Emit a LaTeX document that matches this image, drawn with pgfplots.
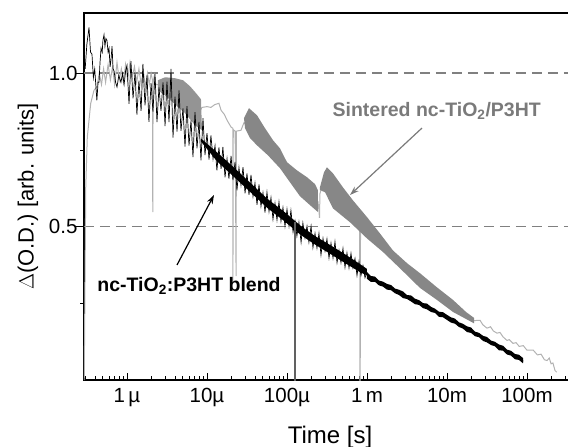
\documentclass[border=0pt]{standalone}
\usepackage{fontspec}
\setmainfont{Liberation Sans}
\usepackage{pgfplots}
\pgfplotsset{compat=1.18}
\usetikzlibrary{arrows.meta}
\definecolor{bandgray}{gray}{0.53}
\definecolor{bandlight}{gray}{0.58}
\definecolor{lightgr}{gray}{0.70}
\definecolor{dashgr}{gray}{0.50}
\definecolor{textgr}{gray}{0.48}
\definecolor{spikegr}{gray}{0.38}
\begin{document}
\begin{tikzpicture}
\path[use as bounding box] (0,0) rectangle (568pt,447pt);
\begin{axis}[
  at={(84pt,67pt)}, anchor=south west,
  scale only axis, width=490pt, height=367pt,
  xmode=log, ymode=log,
  xmin=2.9e-7, xmax=0.387, ymin=0.25, ymax=1.313,
  xtick={1e-6,1e-5,1e-4,1e-3,1e-2,1e-1},
  xticklabels={1\,µ,10µ,100µ,1\,m,10m,100m},
  minor xtick={3e-7,4e-7,5e-7,6e-7,7e-7,8e-7,9e-7,
    2e-6,3e-6,4e-6,5e-6,6e-6,7e-6,8e-6,9e-6,
    2e-5,3e-5,4e-5,5e-5,6e-5,7e-5,8e-5,9e-5,
    2e-4,3e-4,4e-4,5e-4,6e-4,7e-4,8e-4,9e-4,
    2e-3,3e-3,4e-3,5e-3,6e-3,7e-3,8e-3,9e-3,
    2e-2,3e-2,4e-2,5e-2,6e-2,7e-2,8e-2,9e-2,
    2e-1,3e-1},
  ytick={0.5,1}, yticklabels={0.5,1.0},
  minor ytick={0.35355,0.70711},
  xtick pos=left, ytick pos=left,
  tick align=inside,
  major tick length=7pt, minor tick length=4pt,
  major y tick style={xshift=-8pt},
  minor y tick style={xshift=-3.5pt},
  tick style={black, line width=0.9pt},
  axis line style={black, line width=1.2pt},
  tick label style={font=\fontsize{20.5}{22}\selectfont},
  xticklabel style={yshift=-5pt},
  yticklabel style={xshift=-3pt},
  xlabel={Time [s]},
  xlabel style={font=\fontsize{24}{26}\selectfont, at={(rel axis cs:0.502,0)}, anchor=center, yshift=-57pt},
  clip mode=individual,
]
% reference lines
\addplot[dashgr, line width=1.6pt, dash pattern=on 10pt off 6pt] coordinates {(2.9e-7,1) (0.387,1)};
\addplot[dashgr, line width=1.6pt, dash pattern=on 10pt off 6pt] coordinates {(2.9e-7,0.5) (0.387,0.5)};

% sintered: thin light grey trace
\addplot[lightgr, line width=1pt] coordinates {
(2.92e-7,0.25) (3.05e-7,0.597) (3.19e-7,0.749) (3.52e-7,0.873) (3.87e-7,0.926) (4.2e-7,0.94)
(4.5e-7,1.00) (4.8e-7,0.95) (5.1e-7,1.02) (5.4e-7,0.96) (5.8e-7,1.04) (6.2e-7,0.97)
(6.6e-7,1.03) (7.0e-7,0.95) (7.5e-7,1.05) (8.0e-7,0.97) (8.5e-7,1.02) (9.0e-7,0.96)
(9.6e-7,1.04) (1.02e-6,0.97) (1.09e-6,1.05) (1.16e-6,0.98) (1.24e-6,1.03) (1.32e-6,0.96)
(1.41e-6,1.02) (1.5e-6,0.95) (1.6e-6,1.01) (1.7e-6,0.94) (1.8e-6,1.00) (1.9e-6,0.95)
(2.0e-6,1.00) (2.08e-6,0.97) (2.1e-6,0.534) (2.12e-6,0.96) (2.2e-6,0.99) (2.3e-6,0.95)
(2.44e-6,0.95) (3e-6,0.93) (4e-6,0.90) (5e-6,0.88) (6e-6,0.87) (7e-6,0.86) (8.4e-6,0.85)
(8.66e-6,0.857) (1.0e-5,0.86) (1.12e-5,0.857) (1.25e-5,0.868) (1.41e-5,0.873) (1.5e-5,0.846)
(1.65e-5,0.83) (1.78e-5,0.809) (2.0e-5,0.784) (2.1e-5,0.78) (2.11e-5,0.387) (2.13e-5,0.775)
(2.25e-5,0.77) (2.31e-5,0.40) (2.33e-5,0.77) (2.66e-5,0.773) (2.9e-5,0.80) (4e-5,0.76)
(6e-5,0.70) (1e-4,0.64) (1.5e-4,0.60) (2.2e-4,0.57) (2.44e-4,0.56) (2.5e-4,0.54) (2.55e-4,0.52)
(2.58e-4,0.58) (2.9e-4,0.62) (3.16e-4,0.64) (5e-4,0.56) (8.1e-4,0.50) (8.2e-4,0.2) (8.3e-4,0.49)
(1e-3,0.49) (2e-3,0.44) (5e-3,0.39) (1e-2,0.35) (2.18e-2,0.327) (2.59e-2,0.3275) (2.8e-2,0.321)
(3.16e-2,0.316) (3.5e-2,0.318) (3.8e-2,0.312) (4.22e-2,0.309) (4.6e-2,0.310) (5.0e-2,0.304)
(5.62e-2,0.299) (6.0e-2,0.300) (6.68e-2,0.295) (7.3e-2,0.296) (8.0e-2,0.291) (9.0e-2,0.292)
(1.0e-1,0.286) (1.09e-1,0.286) (1.2e-1,0.286) (1.35e-1,0.280) (1.5e-1,0.281) (1.65e-1,0.274)
(1.78e-1,0.273) (1.9e-1,0.276) (2.0e-1,0.269) (2.11e-1,0.270) (2.24e-1,0.261) (2.35e-1,0.259)
};

% sintered: dense (dark grey) segments
\addplot[bandlight, fill=bandlight, draw=none] coordinates {
(2.44e-6,0.969) (2.99e-6,0.982) (3.98e-6,0.978) (5.01e-6,0.969) (6.13e-6,0.943) (7.29e-6,0.914)
(8.41e-6,0.889) (8.66e-6,0.773) (7.08e-6,0.791) (5.31e-6,0.835) (3.98e-6,0.869) (2.99e-6,0.905)
(2.44e-6,0.926)
};
\addplot[bandgray, fill=bandgray, draw=none] coordinates {
(2.90e-5,0.816) (3.35e-5,0.854) (4.22e-5,0.827) (5.31e-5,0.780) (6.68e-5,0.739) (8.18e-5,0.712)
(1.0e-4,0.669) (1.33e-4,0.645) (1.78e-4,0.625) (2.24e-4,0.606) (2.44e-4,0.589)
(2.44e-4,0.534) (1.94e-4,0.551) (1.45e-4,0.574) (1.09e-4,0.611) (8.18e-5,0.651) (5.79e-5,0.690)
(4.22e-5,0.722) (3.45e-5,0.746) (2.99e-5,0.780)
};
\addplot[bandgray, fill=bandgray, draw=none] coordinates {
(2.58e-4,0.597) (2.90e-4,0.639) (3.16e-4,0.654) (3.76e-4,0.636) (5.01e-4,0.597) (6.68e-4,0.563)
(1e-3,0.522) (1.45e-3,0.485) (2.11e-3,0.449) (3.16e-3,0.424) (4.60e-3,0.405) (7.50e-3,0.380)
(1.19e-2,0.359) (1.73e-2,0.340) (2.18e-2,0.331)
(2.18e-2,0.323) (1.19e-2,0.340) (7.50e-3,0.359) (4.60e-3,0.379) (2.59e-3,0.414) (1.58e-3,0.446)
(1e-3,0.474) (6.13e-4,0.510) (3.76e-4,0.543) (2.99e-4,0.584) (2.58e-4,0.590)
};

% blend: dense core of the noisy trace
\addplot[black, fill=black, draw=none] coordinates {
(8.4e-6,0.745) (1.33e-5,0.700) (2.2e-5,0.652) (3.5e-5,0.609) (5.6e-5,0.568)
(9.2e-5,0.535) (1.5e-4,0.501) (2.2e-4,0.480) (3.4e-4,0.461) (5.6e-4,0.439) (8.2e-4,0.422) (1e-3,0.413)
(1e-3,0.401) (8.2e-4,0.407) (5.6e-4,0.422) (3.4e-4,0.443) (2.2e-4,0.462) (1.5e-4,0.481)
(9.2e-5,0.513) (5.6e-5,0.545) (3.5e-5,0.584) (2.2e-5,0.625) (1.33e-5,0.672) (8.4e-6,0.735)
};
% blend: noisy trace
\addplot[black, line width=0.7pt] coordinates {
(3.0e-7,1.02) (3.15e-7,1.14) (3.35e-7,1.23) (3.5e-7,1.10) (3.65e-7,1.09) (3.8e-7,0.98) (3.95e-7,1.02)
(4.2e-7,0.885) (4.35e-7,0.96) (4.47e-7,0.96) (4.6e-7,1.05) (4.74e-7,1.12) (4.9e-7,1.10) (5.0e-7,1.16)
(5.16e-7,1.19) (5.3e-7,1.13) (5.45e-7,1.17) (5.62e-7,1.16) (5.8e-7,1.10) (5.96e-7,1.12) (6.15e-7,1.03)
(6.3e-7,1.06) (6.5e-7,1.13) (6.7e-7,1.02) (6.9e-7,1.01) (7.2e-7,0.96) (7.5e-7,0.94) (7.9e-7,0.99)
(8.4e-7,0.96) (8.8e-7,1.00) (9.2e-7,0.95) (9.6e-7,1.01)
(1.00e-6,1.036) (1.06e-6,0.871) (1.12e-6,1.056) (1.19e-6,0.893) (1.26e-6,1.003) (1.33e-6,0.830)
(1.41e-6,0.967) (1.50e-6,0.844) (1.58e-6,1.043) (1.68e-6,0.865) (1.78e-6,0.990) (1.88e-6,0.803)
(2.00e-6,0.956) (2.11e-6,0.841) (2.24e-6,0.997) (2.37e-6,0.802) (2.51e-6,0.938) (2.66e-6,0.844)
(2.82e-6,0.960) (2.99e-6,0.788) (3.16e-6,0.963) (3.35e-6,0.802) (3.55e-6,1.020) (3.76e-6,0.748)
(3.98e-6,0.900) (4.22e-6,0.768) (4.47e-6,0.925) (4.73e-6,0.771) (5.01e-6,0.853) (5.31e-6,0.718)
(5.62e-6,0.862) (5.96e-6,0.721) (6.31e-6,0.808) (6.68e-6,0.685) (7.08e-6,0.839) (7.50e-6,0.712)
(7.94e-6,0.803) (8.41e-6,0.675) (8.91e-6,0.816) (9.44e-6,0.691)
(1.00e-5,0.763) (1.06e-5,0.677) (1.12e-5,0.755) (1.19e-5,0.679) (1.26e-5,0.721) (1.33e-5,0.645)
(1.41e-5,0.715) (1.50e-5,0.649) (1.58e-5,0.717) (1.68e-5,0.625) (1.78e-5,0.680) (1.88e-5,0.621)
(2.00e-5,0.688) (2.11e-5,0.617) (2.24e-5,0.670) (2.37e-5,0.589) (2.51e-5,0.653) (2.66e-5,0.603)
(2.82e-5,0.654) (2.99e-5,0.581) (3.16e-5,0.636) (3.35e-5,0.577) (3.55e-5,0.632) (3.76e-5,0.573)
(3.98e-5,0.609) (4.22e-5,0.552) (4.47e-5,0.605) (4.73e-5,0.548) (5.01e-5,0.583) (5.31e-5,0.533)
(5.62e-5,0.584) (5.96e-5,0.535) (6.31e-5,0.570) (6.68e-5,0.517) (7.08e-5,0.556) (7.50e-5,0.515)
(7.94e-5,0.559) (8.41e-5,0.512) (8.91e-5,0.545) (9.44e-5,0.501)
(1.00e-4,0.541) (1.06e-4,0.501) (1.12e-4,0.538) (1.19e-4,0.488) (1.26e-4,0.513) (1.33e-4,0.479)
(1.41e-4,0.510) (1.50e-4,0.466) (1.58e-4,0.508) (1.68e-4,0.475) (1.78e-4,0.501) (1.88e-4,0.466)
(2.00e-4,0.501) (2.11e-4,0.455) (2.24e-4,0.485) (2.37e-4,0.454) (2.51e-4,0.485) (2.66e-4,0.440)
(2.82e-4,0.474) (2.99e-4,0.448) (3.16e-4,0.473) (3.35e-4,0.434) (3.55e-4,0.464) (3.76e-4,0.434)
(3.98e-4,0.467) (4.22e-4,0.425) (4.47e-4,0.449) (4.73e-4,0.425) (5.01e-4,0.453) (5.31e-4,0.416)
(5.62e-4,0.444) (5.96e-4,0.415) (6.31e-4,0.443) (6.68e-4,0.415) (7.08e-4,0.433) (7.50e-4,0.401)
(7.94e-4,0.427) (8.41e-4,0.401) (8.91e-4,0.419) (9.44e-4,0.397) (1.00e-3,0.407)
};
% blend: later part (upper edge, then lower edge back)
\addplot[black, fill=black, draw=none] coordinates {
(1e-3,0.407) (1.12e-3,0.400) (1.26e-3,0.399) (1.41e-3,0.392) (1.58e-3,0.390) (1.78e-3,0.386)
(2e-3,0.384) (2.24e-3,0.378) (2.51e-3,0.376) (2.82e-3,0.373) (3.16e-3,0.367) (3.55e-3,0.3665)
(3.98e-3,0.361) (4.47e-3,0.3587) (5.01e-3,0.3539) (5.62e-3,0.3532) (6.31e-3,0.3480) (7.08e-3,0.3451)
(7.94e-3,0.3404) (8.91e-3,0.3397) (1e-2,0.3356) (1.12e-2,0.3319) (1.26e-2,0.3299) (1.41e-2,0.3245)
(1.58e-2,0.3223) (1.78e-2,0.3186) (2e-2,0.3169) (2.24e-2,0.3111) (2.51e-2,0.3094) (2.82e-2,0.3053)
(3.16e-2,0.3036) (3.55e-2,0.2988) (3.98e-2,0.2971) (4.47e-2,0.2935) (5.01e-2,0.2919) (5.62e-2,0.2868)
(6.31e-2,0.2853) (7.08e-2,0.2812) (7.94e-2,0.2802) (8.91e-2,0.2761) (9.0e-2,0.2725)
(8.91e-2,0.2696) (7.94e-2,0.2737) (7.08e-2,0.2746) (6.31e-2,0.2791) (5.62e-2,0.2806) (5.01e-2,0.2855)
(4.47e-2,0.2859) (3.98e-2,0.2912) (3.55e-2,0.2928) (3.16e-2,0.2963) (2.82e-2,0.2983) (2.51e-2,0.3034)
(2.24e-2,0.3047) (2e-2,0.3093) (1.78e-2,0.3105) (1.58e-2,0.3154) (1.41e-2,0.3178) (1.26e-2,0.3224)
(1.12e-2,0.3241) (1e-2,0.3280) (8.91e-3,0.3320) (7.94e-3,0.3326) (7.08e-3,0.3386) (6.31e-3,0.3400)
(5.62e-3,0.3441) (5.01e-3,0.3460) (4.47e-3,0.3511) (3.98e-3,0.3522) (3.55e-3,0.3566) (3.16e-3,0.3606)
(2.82e-3,0.3620) (2.51e-3,0.3672) (2.24e-3,0.370) (2e-3,0.3752) (1.78e-3,0.3761) (1.58e-3,0.3814)
(1.41e-3,0.3834) (1.26e-3,0.3897) (1.12e-3,0.3895) (1e-3,0.395)
};
% drop-out at ~126 us
\addplot[spikegr, line width=1.3pt] coordinates {(1.26e-4,0.51) (1.26e-4,0.2)};

% annotations
\node[font=\fontsize{22}{24}\selectfont, rotate=90, anchor=center] at (rel axis cs:-0.1143,0.5) {$\Delta$(O.D.) [arb. units]};
\node[font=\fontsize{19.5}{21}\selectfont\bfseries, text=textgr, anchor=base] at (rel axis cs:0.7198,0.7175) {Sintered nc-TiO\textsubscript{2}/P3HT};
\node[font=\fontsize{19.5}{21}\selectfont\bfseries, text=black, anchor=base] at (rel axis cs:0.2143,0.2406) {nc-TiO\textsubscript{2}:P3HT blend};
\draw[textgr, line width=1.2pt, -{Stealth[length=9pt,width=6pt]}] (rel axis cs:0.6898,0.6866) -- (rel axis cs:0.5429,0.5041);
\draw[black, line width=1.2pt, -{Stealth[length=9pt,width=6pt]}] (rel axis cs:0.1898,0.3134) -- (rel axis cs:0.2653,0.5041);
\end{axis}
\end{tikzpicture}
\end{document}
